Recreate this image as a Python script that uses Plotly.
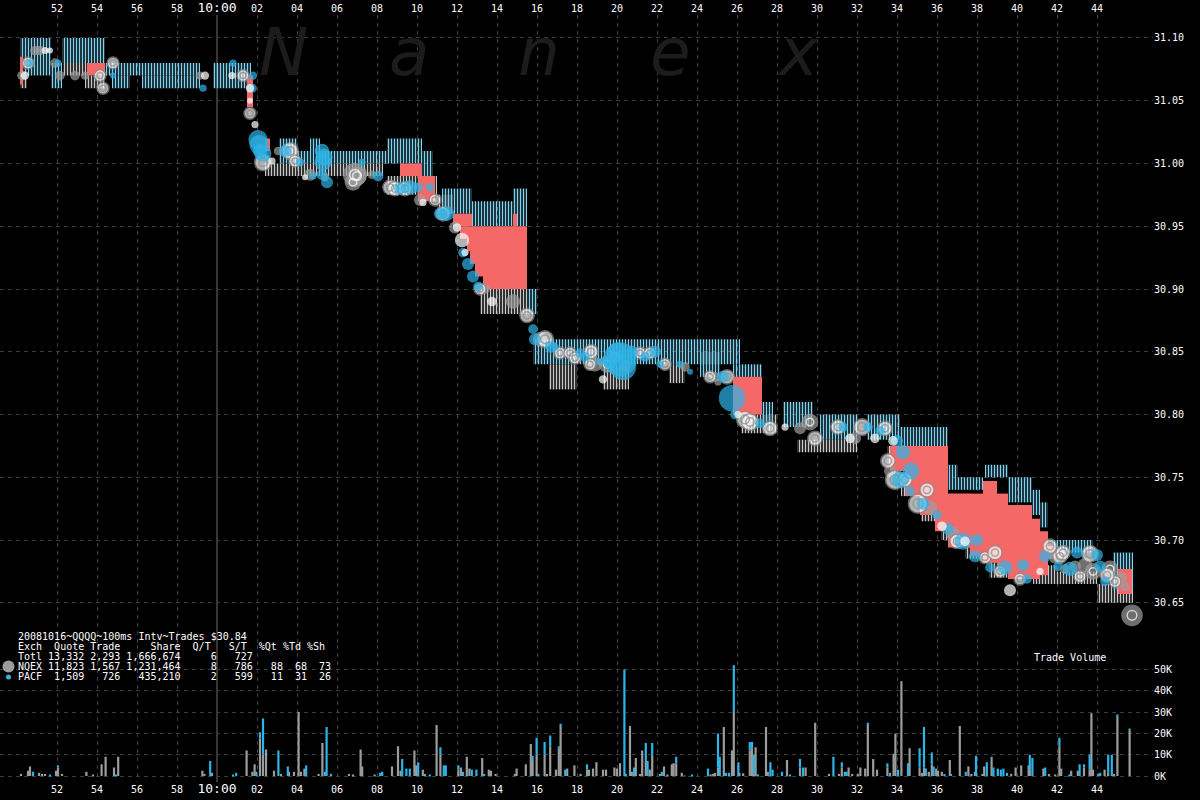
import plotly.graph_objects as go

# ---------------- axes / labels ----------------
tick_minutes = [-8, -6, -4, -2, 0, 2, 4, 6, 8, 10, 12, 14, 16, 18, 20, 22, 24, 26, 28, 30,
                32, 34, 36, 38, 40, 42, 44]
tick_labels = ["52", "54", "56", "58", "10:00", "02", "04", "06", "08", "10", "12", "14", "16",
               "18", "20", "22", "24", "26", "28", "30", "32", "34", "36", "38", "40", "42", "44"]
price_ticks = [30.65, 30.70, 30.75, 30.80, 30.85, 30.90, 30.95, 31.00, 31.05, 31.10]
price_labels = ["30.65", "30.70", "30.75", "30.80", "30.85", "30.90", "30.95", "31.00", "31.05", "31.10"]
vol_ticks = [0, 10, 20, 30, 40, 50]
vol_labels = ["0K", "10K", "20K", "30K", "40K", "50K"]

# ---------------- quotes (minutes after 10:00, price) ----------------
pacf_q_start = [-9.85, -8.3, -7.75, -5.6, -5.25, -3.75, -0.2, 3.1, 4.65, 4.0, 8.5, 10.25, 11.25,
                12.75, 14.8, 15.5, 15.8, 24.15, 25.8, 27.25, 28.3, 30.15, 32.5, 34.15, 36.55,
                37.05, 38.4, 39.55, 40.75, 41.15, 41.75, 44.8]
pacf_q_end = [-8.3, -7.75, -5.6, -0.85, -4.35, -0.85, 1.7, 4.0, 5.15, 8.5, 10.25, 10.8, 12.75,
              14.8, 15.5, 16.0, 26.15, 25.15, 27.25, 27.8, 29.8, 32.0, 34.15, 36.55, 37.05,
              38.3, 39.55, 40.75, 41.15, 41.55, 43.8, 45.8]
pacf_q_bid = [31.07, 31.06, 31.08, 31.07, 31.06, 31.06, 31.06, 31.00, 31.01, 31.00, 31.00, 30.99,
              30.96, 30.95, 30.95, 30.88, 30.84, 30.83, 30.83, 30.79, 30.79, 30.78, 30.78, 30.775,
              30.74, 30.74, 30.75, 30.73, 30.72, 30.71, 30.69, 30.66]
pacf_q_ask = [31.10, 31.08, 31.10, 31.08, 31.07, 31.07, 31.08, 31.02, 31.02, 31.01, 31.02, 31.01,
              30.98, 30.97, 30.98, 30.90, 30.86, 30.85, 30.84, 30.81, 30.81, 30.80, 30.80, 30.79,
              30.76, 30.75, 30.76, 30.75, 30.74, 30.73, 30.70, 30.69]

nqex_q_start = [-9.85, -7.7, -6.6, 2.4, 8.5, 11.0, 13.15, 16.6, 19.3, 22.6, 26.2, 29.0, 33.5,
                34.2, 35.2, 36.2, 37.4, 38.6, 40.8, 42.0, 44.0]
nqex_q_end = [-9.5, -6.5, -5.6, 8.3, 11.0, 11.8, 15.5, 18.0, 20.6, 23.4, 28.0, 32.0, 34.2,
              35.2, 36.2, 37.4, 38.6, 40.2, 42.0, 44.0, 45.8]
nqex_q_bid = [31.06, 31.07, 31.06, 30.99, 30.975, 30.96, 30.88, 30.82, 30.82, 30.825, 30.785,
              30.77, 30.76, 30.735, 30.715, 30.70, 30.685, 30.67, 30.665, 30.665, 30.65]
nqex_q_ask = [31.07, 31.08, 31.07, 31.00, 30.99, 30.975, 30.90, 30.84, 30.84, 30.84, 30.80,
              30.78, 30.775, 30.75, 30.73, 30.715, 30.70, 30.685, 30.68, 30.675, 30.665]

crossed_start = [-9.85, -6.5, 1.5, 2.4, 9.15, 10.05, 11.8, 12.15, 12.5, 12.65, 12.9, 13.3, 14.8,
                 25.8, 33.65, 34.4, 35.15, 35.9, 36.55, 37.65, 38.3, 39.0, 39.55, 40.75, 41.15,
                 41.55, 45.05]
crossed_end = [-9.7, -5.6, 1.8, 2.65, 10.25, 10.9, 12.75, 12.5, 12.65, 12.9, 13.3, 15.5, 15.0,
               27.25, 34.4, 35.15, 35.9, 36.55, 37.65, 38.3, 39.0, 39.55, 40.75, 41.15, 41.55,
               41.9, 45.75]
crossed_low = [31.063, 31.07, 31.045, 31.01, 30.99, 30.97, 30.95, 30.94, 30.93, 30.92, 30.91, 30.90,
               30.95, 30.80, 30.755, 30.735, 30.72, 30.707, 30.694, 30.687, 30.682, 30.675, 30.669,
               30.669, 30.672, 30.685, 30.657]
crossed_high = [31.085, 31.08, 31.07, 31.02, 31.00, 30.99, 30.96, 30.95, 30.95, 30.95, 30.95, 30.95,
                30.96, 30.83, 30.775, 30.775, 30.775, 30.775, 30.737, 30.737, 30.747, 30.737,
                30.728, 30.717, 30.707, 30.695, 30.677]

# ---------------- trades ----------------
trade_time = [-9.75, -9.6, -9.45, -9.35, -9.1, -8.85, -8.6, -8.35, -8.1, -7.95, -7.85, -7.1, -6.6,
              -5.85, -5.7, -5.2, -5.2, -0.85, -0.7, -0.6, 0.75, 0.8, 1.3, 1.8, 1.75, 1.65, 1.65,
              1.65, 1.9, 2.05, 2.15, 2.3, 2.75, 3.05, 3.4, 3.65, 3.9, 4.15, 4.4, 4.65, 4.8, 5.25,
              5.3, 5.25, 5.4, 6.9, 7.25, 7.75, 8.05, 8.65, 8.9, 9.15, 9.4, 9.65, 10.05, 10.15,
              10.3, 10.65, 10.9, 11.15, 11.3, 11.5, 11.9, 12.0, 12.25, 12.3, 12.4, 12.55, 12.8,
              13.05, 13.15, 13.4, 13.75, 14.8, 15.5, 15.8, 15.9, 16.15, 16.4, 16.9, 17.15, 17.4,
              17.65, 18.15, 18.4, 18.65, 18.9, 19.15, 19.3, 19.65, 19.9, 20.15, 20.4, 20.75,
              21.15, 21.4, 21.65, 22.15, 22.4, 23.15, 23.65, 24.65, 24.9, 25.05, 25.3, 25.5,
              25.75, 25.9, 26.05, 26.4, 26.65, 27.15, 27.65, 28.4, 29.15, 29.65, 29.9, 31.05,
              31.3, 31.65, 31.9, 32.25, 32.55, 32.9, 33.15, 33.4, 33.8, 34.0, 33.55, 33.65, 33.9,
              34.15, 34.4, 34.65, 35.05, 35.3, 35.65, 36.0, 36.25, 36.55, 37.0, 37.3, 37.4, 37.9,
              38.4, 38.65, 39.15, 39.4, 39.65, 40.15, 40.5, 41.15, 41.4, 41.65, 41.9, 42.05,
              42.15, 42.4, 42.65, 42.9, 43.15, 43.65, 43.8, 44.15, 44.4, 44.65, 44.9, 45.4, 45.75,
              2.1, 2.3, 5.35, 5.5, 6.8, 7.0, 16.7, 17.9, 18.7, 19.5, 20.3, 20.0, 21.9, 23.4,
              34.3, 34.7, 35.5, 36.8, 38.0, 38.9, 40.3, 42.3, 43.0, 43.4, 44.0, 44.5, 45.2]
trade_price = [31.070, 31.070, 31.080, 31.080, 31.090, 31.090, 31.090, 31.090, 31.080, 31.080,
               31.070, 31.070, 31.070, 31.070, 31.060, 31.080, 31.070, 31.070, 31.060, 31.070,
               31.070, 31.080, 31.070, 31.070, 31.060, 31.060, 31.050, 31.040, 31.031, 31.019,
               31.010, 31.001, 31.002, 31.010, 31.010, 31.010, 31.002, 31.001, 30.989, 30.991,
               30.990, 31.010, 31.001, 30.991, 30.989, 30.991, 31.001, 30.991, 30.990, 30.981,
               30.980, 30.980, 30.980, 30.981, 30.981, 30.971, 30.969, 30.981, 30.971, 30.960,
               30.960, 30.960, 30.949, 30.949, 30.939, 30.929, 30.929, 30.920, 30.910, 30.902,
               30.900, 30.900, 30.890, 30.890, 30.879, 30.868, 30.860, 30.860, 30.860, 30.854,
               30.849, 30.849, 30.849, 30.849, 30.846, 30.840, 30.840, 30.842, 30.828, 30.842,
               30.846, 30.844, 30.839, 30.850, 30.849, 30.846, 30.849, 30.840, 30.840, 30.840,
               30.834, 30.830, 30.830, 30.826, 30.830, 30.830, 30.813, 30.800, 30.800, 30.796,
               30.794, 30.793, 30.789, 30.790, 30.789, 30.794, 30.781, 30.790, 30.790, 30.781,
               30.781, 30.790, 30.790, 30.781, 30.787, 30.789, 30.779, 30.779, 30.763, 30.755,
               30.748, 30.748, 30.748, 30.739, 30.729, 30.729, 30.726, 30.720, 30.711, 30.709,
               30.699, 30.699, 30.699, 30.687, 30.686, 30.678, 30.675, 30.678, 30.660, 30.669,
               30.669, 30.675, 30.687, 30.695, 30.686, 30.679, 30.687, 30.677, 30.677, 30.679,
               30.671, 30.689, 30.675, 30.679, 30.667, 30.677, 30.667, 30.663, 30.640,
               31.015, 31.008, 31.005, 30.985, 30.985, 30.990, 30.854, 30.845, 30.850, 30.840,
               30.838, 30.850, 30.850, 30.838, 30.770, 30.755, 30.740, 30.705, 30.700, 30.690,
               30.680, 30.690, 30.690, 30.680, 30.688, 30.672, 30.670]
trade_size = [8, 7, 10, 6, 8, 8, 6, 5, 8, 6, 8, 8, 7, 10, 10, 10, 5, 7, 6, 7, 6, 6, 10, 7, 8, 7, 5,
              10, 6, 16, 12, 14, 6, 7, 10, 14, 10, 7, 5, 10, 6, 12, 14, 9, 7, 20, 6, 7, 9, 12, 12,
              10, 12, 12, 8, 10, 6, 7, 10, 10, 12, 12, 10, 7, 12, 8, 6, 10, 10, 8, 10, 8, 8, 12,
              12, 8, 10, 12, 14, 6, 10, 6, 10, 8, 8, 10, 12, 6, 7, 12, 10, 28, 10, 10, 10, 8, 10,
              6, 10, 6, 5, 10, 8, 6, 10, 12, 22, 8, 6, 14, 14, 8, 12, 6, 10, 14, 12, 12, 8, 8, 10,
              14, 8, 8, 8, 12, 8, 10, 12, 10, 16, 14, 12, 8, 16, 10, 12, 8, 8, 10, 12, 14, 8, 10,
              10, 8, 10, 12, 10, 10, 8, 6, 10, 12, 10, 8, 12, 8, 12, 10, 10, 14, 14, 10, 8, 14,
              10, 8, 18,
              16, 14, 14, 10, 14, 16, 10, 10, 12, 14, 22, 16, 10, 8, 12, 14, 12, 12, 10, 12, 10,
              12, 10, 12, 10, 12, 10]
trade_exch = ["N", "W", "R", "P", "N", "N", "W", "W", "N", "P", "N", "N", "N", "R", "R", "R", "P",
              "N", "P", "W", "W", "P", "R", "P", "P", "W", "W", "R", "W", "P", "P", "R", "W", "N",
              "P", "R", "R", "P", "W", "N", "P", "P", "P", "P", "N", "N", "P", "N", "P", "R", "R",
              "P", "R", "P", "P", "N", "W", "P", "R", "P", "R", "P", "N", "W", "W", "P", "W", "P",
              "P", "P", "R", "N", "W", "N", "R", "P", "P", "N", "R", "P", "R", "N", "R", "P", "P",
              "R", "N", "P", "W", "P", "R", "P", "N", "P", "R", "P", "R", "P", "R", "P", "P", "R",
              "N", "N", "P", "R", "P", "P", "W", "R", "R", "P", "R", "W", "N", "N", "R", "R", "P",
              "W", "N", "R", "P", "W", "P", "R", "W", "P", "R", "N", "R", "P", "R", "P", "R", "P",
              "N", "P", "W", "P", "R", "P", "W", "P", "R", "P", "R", "P", "W", "R", "P", "W", "P",
              "R", "N", "P", "R", "N", "P", "N", "R", "R", "N", "P", "P", "N", "R", "N", "N",
              "P", "P", "P", "P", "N", "N", "P", "R", "R", "N", "P", "P", "P", "N",
              "P", "P", "R", "N", "P", "R", "P", "R", "P", "N", "P", "R", "N"]

# ---------------- trade volume (K shares) ----------------
vol_time = [-9.8, -9.45, -9.35, -9.2, -8.9, -8.75, -8.6, -8.35, -8.05, -7.95, -7.75, -6.53, -6.2,
            -5.77, -5.57, -5.15, -5.05, -4.94, -0.73, -0.63, -0.34, -0.25, 0.8, 0.96, 1.48, 1.77,
            1.88, 1.96, 2.15, 2.3, 2.45, 2.85, 3.07, 3.2, 3.54, 3.6, 3.85, 4.08, 4.2, 4.37, 4.46,
            5.08, 5.27, 5.4, 5.48, 5.7, 6.6, 6.8, 7.18, 7.26, 7.88, 8.16, 8.26, 8.75, 9.05, 9.18,
            9.26, 9.47, 9.64, 9.87, 9.96, 10.06, 10.29, 10.39, 10.64, 10.98, 11.17, 11.34, 11.44,
            12.07, 12.2, 12.3, 12.49, 12.62, 12.74, 12.97, 13.26, 13.36, 13.59, 13.7, 13.93, 14.89,
            14.98, 15.44, 15.69, 15.78, 15.98, 16.07, 16.38, 16.5, 16.66, 16.95, 17.09, 17.18,
            17.41, 17.51, 17.87, 18.18, 18.5, 18.6, 18.8, 18.97, 19.3, 19.45, 19.87, 20.0, 20.15,
            20.37, 20.44, 20.65, 20.74, 20.85, 20.94, 21.15, 21.26, 21.44, 21.53, 21.64, 21.76,
            22.15, 22.24, 22.35, 22.52, 22.74, 22.83, 22.96, 23.24, 23.38, 23.75, 24.55, 24.68,
            24.81, 24.9, 25.05, 25.14, 25.34, 25.45, 25.6, 25.75, 25.84, 26.07, 26.12, 26.31,
            26.64, 26.75, 26.84, 26.93, 27.04, 27.45, 27.54, 27.67, 27.78, 28.25, 28.5, 28.65,
            29.15, 29.3, 29.43, 29.91, 30.6, 30.82, 31.1, 31.24, 31.39, 31.48, 31.58, 31.76,
            32.04, 32.17, 32.41, 32.54, 32.81, 33.0, 33.52, 33.65, 33.83, 33.92, 34.05, 34.22,
            34.55, 34.63, 35.13, 35.26, 35.35, 35.44, 35.59, 35.74, 35.83, 35.96, 36.05, 36.24,
            36.37, 36.64, 36.7, 37.14, 37.44, 37.57, 37.72, 37.9, 37.95, 38.27, 38.36, 38.49,
            38.73, 38.82, 39.04, 39.19, 39.32, 39.5, 39.71, 39.93, 40.21, 40.58, 40.64, 40.77,
            41.32, 41.41, 41.6, 41.91, 42.12, 42.21, 42.62, 42.71, 43.04, 43.13, 43.35, 43.63,
            43.72, 43.8, 44.07, 44.16, 44.38, 44.56, 44.74, 44.85, 45.02, 45.63]
vol_nqex = [1, 2.5, 4.5, 0, 1.5, 1, 1, 0, 2.5, 4, 1, 2, 0.5, 5.5, 9, 4, 0, 9, 2.5, 1, 0, 1.5, 0,
            0, 12, 2, 5.5, 0, 17.5, 10, 12.5, 2.5, 0, 1, 0, 2, 2, 30, 2, 3.5, 0, 1, 15.5, 0, 0, 0,
            1, 0.5, 12.5, 4.5, 0.5, 0, 0, 4.5, 14, 2.5, 0, 0, 0, 12, 5, 0, 3, 1, 0, 24, 10, 0, 0,
            3, 4, 0, 9, 3.5, 0, 0, 8.5, 0, 3, 2.5, 1, 1, 3.5, 5.5, 15, 7, 10, 0, 10, 1, 14, 3, 13,
            23, 0, 3.5, 5, 1, 3, 3, 3.5, 6.5, 3, 3, 4, 3.5, 6, 0, 0, 23.5, 2, 0, 8.5, 1, 12, 7, 0,
            3, 10, 1, 0, 4.5, 0.5, 5.5, 6, 6, 1.5, 0, 0, 0, 0.8, 1, 1.5, 4, 0, 23, 0, 0, 12, 30,
            0, 1.5, 1.3, 12, 13, 1.2, 13.5, 0, 23, 2, 0, 0, 0, 7.5, 0, 4, 0, 4, 25, 1, 0, 1, 4,
            0, 0, 4, 1, 1, 4, 3.5, 24, 8, 3, 4, 0, 10.5, 20, 0, 44.5, 0, 13, 4, 1.5, 4, 0, 2,
            5.5, 0, 3.5, 2.5, 2, 0, 7.5, 0, 23.5, 0, 4.5, 1, 2, 0, 1, 4.5, 0, 8, 0, 0, 0, 0, 0,
            1, 4, 5, 5, 3, 0, 3.5, 0, 1, 0.5, 14, 3.5, 0, 2.5, 2.5, 0, 4, 3, 29.5, 3, 0, 0, 3,
            1.5, 0, 1, 28, 21.5]
vol_pacf = [0, 0, 0, 2, 0, 0, 0, 0.3, 0, 1, 0, 0, 0, 0, 0, 0, 0.3, 0, 0, 0, 7, 0, 0.5, 1.5, 0, 0,
            0, 2, 3, 17, 0, 0, 12, 0, 4.5, 0, 0, 0, 0, 0, 5, 0, 0, 2, 23, 1, 0, 0, 0, 0, 0, 1.5,
            2, 0, 0, 0, 8, 3.5, 3.5, 0, 0, 6.5, 0, 0, 0.5, 0, 3.5, 5, 5, 2, 0, 2, 0, 0, 3, 3, 0,
            1, 0, 0, 0, 0, 0, 0, 0, 2.5, 8, 1, 6, 0, 5, 0, 1, 1.5, 3, 0, 0, 0, 2.5, 0, 0, 0, 0, 0,
            0, 0, 0, 50, 1, 0, 0, 4, 0, 0, 0, 8.5, 7, 0, 5.5, 0, 2, 0, 0, 0, 0, 3, 0, 0.2, 0.3,
            3.5, 0, 0, 0, 16, 9, 0, 1.5, 1.5, 0, 22, 6.5, 0, 0, 4, 3, 8.8, 0, 0.8, 0, 0, 6.5, 3,
            2, 0, 0.5, 4, 4, 0, 0, 0, 9, 0, 2.5, 2, 2, 0, 0, 0, 0, 0, 1, 0, 0, 2, 1.5, 0, 0, 3,
            0, 6, 0, 9, 0, 19, 3.5, 0, 5.5, 4.5, 0, 0, 0, 1, 0, 1, 0, 2, 0, 0, 0, 9.5, 0, 0, 6.5,
            1, 4, 3.5, 3, 3.5, 1.5, 0, 0, 0, 0, 7, 8.5, 0, 4, 0, 0, 4, 0, 0.5, 0, 0, 5.5, 1.5, 7,
            0, 0, 1, 1.5, 0, 8.5, 10, 0, 0.5, 0.5]

stats_lines = [
    "20081016~QQQQ~100ms Intv~Trades $30.84",
    "Exch  Quote Trade     Share  Q/T   S/T  %Qt %Td %Sh",
    "Totl 13,332 2,293 1,666,674     6   727",
    "NQEX 11,823 1,567 1,231,464     8   786   88  68  73",
    "PACF  1,509   726   435,210     2   599   11  31  26",
]
watermark_letters = ["N", "a", "n", "e", "x"]

# ---------------- styling ----------------
BG = "#000000"
GRID = "#3c3c3c"
BLUE = "#2db4e8"
GRAY = "#9c9c9c"
RED = "#f46868"
BLUE_Q = "#7ed3f2"
GRAY_Q = "#c8c8c8"
MONO = "DejaVu Sans Mono"
SIZE_SCALE = 1.2

# layout geometry (pixels)
W, H = 1200, 800
ML, MR, MT, MB = 0, 47, 12, 18
PW, PH = W - ML - MR, H - MT - MB
X_RANGE = [-10.85, 46.8]
PRICE_DOMAIN = [0.178, 1.0]
PRICE_RANGE = [30.6160, 31.1183]
VOL_RANGE = [-2.8, 61.26]


def px_x(p):
    return (p - ML) / PW


def px_y(p):
    return (H - MB - p) / PH


def spans(start, end, low, high):
    xs = [(a + b) / 2 for a, b in zip(start, end)]
    ws = [b - a for a, b in zip(start, end)]
    ys = [h - l for l, h in zip(low, high)]
    return xs, ws, low, ys


fig = go.Figure()

# quote spreads (striped)
for (s, e, lo, hi, col) in [
    (nqex_q_start, nqex_q_end, nqex_q_bid, nqex_q_ask, GRAY_Q),
    (pacf_q_start, pacf_q_end, pacf_q_bid, pacf_q_ask, BLUE_Q),
]:
    xs, ws, base, ys = spans(s, e, lo, hi)
    fig.add_trace(go.Bar(
        x=xs, y=ys, base=base, width=ws, xaxis="x", yaxis="y",
        marker=dict(color=col, line=dict(width=0),
                    pattern=dict(shape="|", size=3, solidity=0.5, fillmode="replace",
                                 fgcolor=col)),
        hoverinfo="skip", showlegend=False))

# crossed / locked periods
xs, ws, base, ys = spans(crossed_start, crossed_end, crossed_low, crossed_high)
fig.add_trace(go.Bar(x=xs, y=ys, base=base, width=ws, xaxis="x", yaxis="y",
                     marker=dict(color=RED, line=dict(width=0)),
                     hoverinfo="skip", showlegend=False))


def pick(kind):
    idx = [i for i, k in enumerate(trade_exch) if k == kind]
    return ([trade_time[i] for i in idx], [trade_price[i] for i in idx],
            [trade_size[i] * SIZE_SCALE for i in idx])


# trades
t, p, s = pick("N")
fig.add_trace(go.Scatter(x=t, y=p, mode="markers", xaxis="x", yaxis="y",
                         marker=dict(color=GRAY, size=s, line=dict(width=0)),
                         hoverinfo="skip", showlegend=False))
big = [(a, b, c) for a, b, c in zip(t, p, s) if c >= 16]
fig.add_trace(go.Scatter(x=[v[0] for v in big], y=[v[1] for v in big], mode="markers",
                         xaxis="x", yaxis="y",
                         marker=dict(symbol="circle-open", color="white",
                                     size=[v[2] * 0.45 for v in big], line=dict(width=1.5)),
                         hoverinfo="skip", showlegend=False))
t, p, s = pick("R")
fig.add_trace(go.Scatter(x=t, y=p, mode="markers", xaxis="x", yaxis="y",
                         marker=dict(color="white", size=s, line=dict(width=1.5, color="#8a8a8a")),
                         hoverinfo="skip", showlegend=False))
fig.add_trace(go.Scatter(x=t, y=p, mode="markers", xaxis="x", yaxis="y",
                         marker=dict(symbol="circle-open", color="#8a8a8a",
                                     size=[v * 0.5 for v in s], line=dict(width=1.5)),
                         hoverinfo="skip", showlegend=False))
t, p, s = pick("P")
fig.add_trace(go.Scatter(x=t, y=p, mode="markers", xaxis="x", yaxis="y",
                         marker=dict(color=BLUE, size=s, line=dict(width=0)),
                         hoverinfo="skip", showlegend=False))
t, p, s = pick("W")
fig.add_trace(go.Scatter(x=t, y=p, mode="markers", xaxis="x", yaxis="y",
                         marker=dict(color="white", size=s, line=dict(width=0)),
                         hoverinfo="skip", showlegend=False))

# volume
nx = [t for t, v in zip(vol_time, vol_nqex) if v > 0]
ny = [v for v in vol_nqex if v > 0]
fig.add_trace(go.Bar(x=nx, y=ny, width=0.11, xaxis="x2", yaxis="y2",
                     marker=dict(color=GRAY, line=dict(width=0)),
                     hoverinfo="skip", showlegend=False))
bx = [t for t, v in zip(vol_time, vol_pacf) if v > 0]
by = [v for v in vol_pacf if v > 0]
bb = [g for g, v in zip(vol_nqex, vol_pacf) if v > 0]
fig.add_trace(go.Bar(x=bx, y=by, base=bb, width=0.11, xaxis="x2", yaxis="y2",
                     marker=dict(color=BLUE, line=dict(width=0)),
                     hoverinfo="skip", showlegend=False))

tick_text = [("<span style='font-size:13px'>%s</span>" % l) if ":" in l else l for l in tick_labels]
grid_common = dict(showgrid=True, gridcolor=GRID, griddash="4px,4px", gridwidth=1,
                   zeroline=False, showline=False, ticks="",
                   tickfont=dict(family=MONO, size=10, color="white"))

annotations = []
for i, line in enumerate(stats_lines):
    annotations.append(dict(
        text=line.replace(" ", "\u00a0"), xref="paper", yref="paper",
        x=px_x(16), y=px_y(636 + i * 10), xanchor="left", yanchor="middle",
        showarrow=False, font=dict(family=MONO, size=10, color="white")))
annotations.append(dict(text="Trade\u00a0Volume", xref="paper", yref="paper",
                        x=px_x(1032), y=px_y(657), xanchor="left", yanchor="middle",
                        showarrow=False, font=dict(family=MONO, size=10, color="white")))
for letter, cx in zip(watermark_letters, [283, 409, 539, 670, 798]):
    annotations.append(dict(text=letter, xref="paper", yref="paper", x=px_x(cx), y=px_y(50),
                            xanchor="center", yanchor="middle", showarrow=False,
                            font=dict(family="DejaVu Sans", size=66, color="#1c1c1c",
                                      style="italic")))

shapes = [
    dict(type="line", xref="x", yref="paper", x0=0, x1=0, y0=0, y1=1,
         line=dict(color="#6a6a6a", width=1), layer="below"),
    dict(type="circle", xref="paper", yref="paper", xsizemode="pixel", ysizemode="pixel",
         xanchor=px_x(8.5), yanchor=px_y(666), x0=-6, x1=6, y0=-6, y1=6,
         fillcolor=GRAY, line=dict(width=0)),
    dict(type="circle", xref="paper", yref="paper", xsizemode="pixel", ysizemode="pixel",
         xanchor=px_x(8.5), yanchor=px_y(676.5), x0=-2.5, x1=2.5, y0=-2.5, y1=2.5,
         fillcolor=BLUE, line=dict(width=0)),
]

fig.update_layout(
    width=W, height=H, autosize=False,
    margin=dict(l=ML, r=MR, t=MT, b=MB, pad=0),
    paper_bgcolor=BG, plot_bgcolor=BG,
    barmode="overlay", showlegend=False,
    xaxis=dict(domain=[0, 1], range=X_RANGE, anchor="y", side="top",
               tickmode="array", tickvals=tick_minutes, ticktext=tick_text, **grid_common),
    xaxis2=dict(domain=[0, 1], range=X_RANGE, anchor="y2", side="bottom", matches="x",
                tickmode="array", tickvals=tick_minutes, ticktext=tick_text, **grid_common),
    yaxis=dict(domain=PRICE_DOMAIN, range=PRICE_RANGE, anchor="x", side="right",
               tickmode="array", tickvals=price_ticks, ticktext=price_labels, **grid_common),
    yaxis2=dict(domain=[0, PRICE_DOMAIN[0]], range=VOL_RANGE, anchor="x2", side="right",
                tickmode="array", tickvals=vol_ticks, ticktext=vol_labels, **grid_common),
    annotations=annotations, shapes=shapes,
)

fig.write_html("out.html", config={"displayModeBar": False},
               post_script="document.body.style.margin='0px';document.body.style.padding='0px';"
                           "document.body.style.background='#000';")
